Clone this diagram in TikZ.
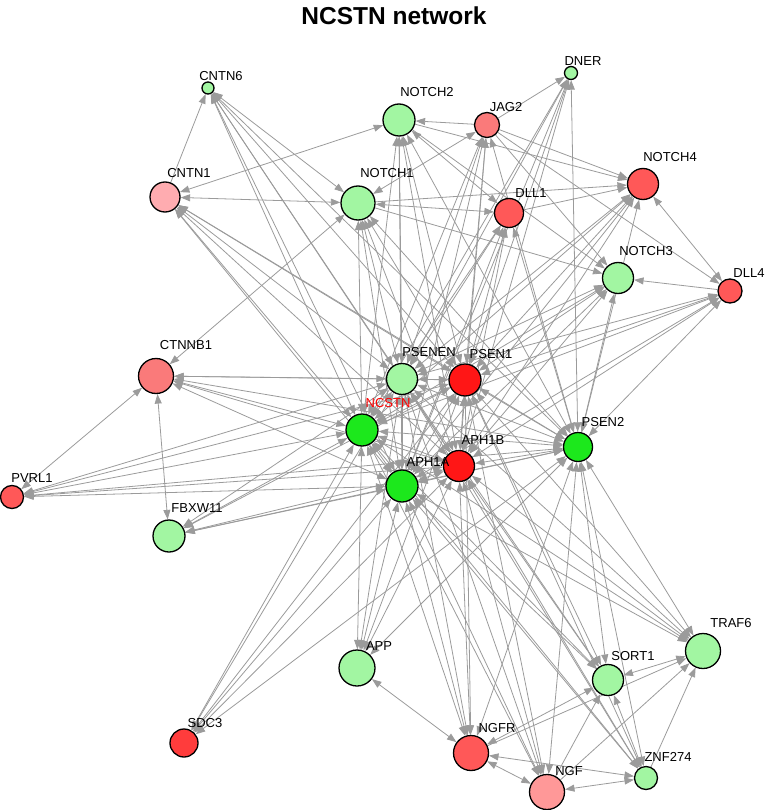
\documentclass[tikz,border=0pt]{standalone}
\usepackage{fontspec}
\setmainfont{Liberation Sans}
\usetikzlibrary{arrows.meta,calc}
\definecolor{edgegray}{RGB}{155,155,155}
\definecolor{lgreen}{RGB}{162,246,162}
\definecolor{bgreen}{RGB}{28,232,28}
\definecolor{fullred}{RGB}{255,22,22}
\definecolor{midred}{RGB}{255,88,88}
\definecolor{deepred}{RGB}{255,60,60}
\definecolor{salmon}{RGB}{250,122,122}
\definecolor{lpink}{RGB}{255,172,176}
\definecolor{npink}{RGB}{255,152,152}
\pgfdeclarelayer{edges}
\pgfsetlayers{edges,main}
\tikzset{gene/.style={circle,draw=black,line width=1.3pt,inner sep=0pt},
	lbl/.style={font=\fontsize{13}{13}\selectfont,inner sep=0pt},
	link/.style={draw=edgegray,line width=0.8pt,arrows={-Triangle[length=9.5pt,width=7pt]}},
	mutual/.style={link,arrows={Triangle[length=9.5pt,width=7pt]-Triangle[length=9.5pt,width=7pt]}}}
\def\gene(#1)(#2,#3)(#4)[#5](#6,#7)#8{\node[gene,minimum size=#4,fill=#5] (#1) at (#2,#3) {};
	\node[lbl] (#1-l) at ($(#1)+(#6,#7)$) {#8};}

\begin{document}
\begin{tikzpicture}[x=1pt,y=-1pt]
		%%%%% START %%%%%
		\useasboundingbox (0,0) rectangle (767,810);
		\node[font=\bfseries\fontsize{24.5}{25}\selectfont] (title) at (394,16) {NCSTN network};
		
		\gene(cntn6)(208,88)(12)[lgreen](13,-12){CNTN6}
		\gene(dner)(571,73)(13)[lgreen](12,-12){DNER}
		\gene(notch2)(399,120)(32)[lgreen](28,-28){NOTCH2}
		\gene(jag2)(487,125)(25)[salmon](19,-18){JAG2}
		\gene(cntn1)(165,197)(30)[lpink](24,-24){CNTN1}
		\gene(notch1)(358,203)(34)[lgreen](29,-30){NOTCH1}
		\gene(notch4)(643,184)(31)[midred](27,-27){NOTCH4}
		\gene(dll1)(509,213)(29)[midred](22,-20){DLL1}
		\gene(notch3)(618,278)(31)[lgreen](28,-27){NOTCH3}
		\gene(dll4)(730,291)(24)[midred](19,-18){DLL4}
		\gene(ctnnb1)(156,376)(35)[salmon](30,-31){CTNNB1}
		\gene(psenen)(402,379)(31)[lgreen](27,-27){PSENEN}
		\gene(psen1)(465,380)(32)[fullred](26,-26){PSEN1}
		\gene(ncstn)(362,430)(32)[bgreen](26,-27){\textcolor{red}{NCSTN}}
		\gene(psen2)(578,447)(29)[bgreen](25,-25){PSEN2}
		\gene(aph1b)(459,466)(31)[fullred](24,-26){APH1B}
		\gene(aph1a)(402,486)(32)[bgreen](26,-24){APH1A}
		\gene(pvrl1)(12,497)(23)[midred](20,-19){PVRL1}
		\gene(fbxw11)(169,536)(32)[lgreen](28,-28){FBXW11}
		\gene(app)(357,668)(36)[lgreen](22,-22){APP}
		\gene(traf6)(703,651)(35)[lgreen](28,-28){TRAF6}
		\gene(sort1)(608,680)(31)[lgreen](25,-24){SORT1}
		\gene(sdc3)(184,743)(28)[deepred](21,-20){SDC3}
		\gene(ngfr)(471,753)(35)[midred](26,-25){NGFR}
		\gene(ngf)(547,792)(35)[npink](22,-21){NGF}
		\gene(znf274)(646,778)(23)[lgreen](22,-21){ZNF274}
		
		\begin{pgfonlayer}{edges}
		% gamma-secretase core
		\foreach \a/\b in {ncstn/psenen,ncstn/psen1,ncstn/psen2,ncstn/aph1a,ncstn/aph1b,
			psenen/psen1,psenen/psen2,psenen/aph1a,psenen/aph1b,psen1/psen2,
			psen1/aph1a,psen1/aph1b,psen2/aph1a,psen2/aph1b,aph1a/aph1b}
			\draw[mutual] (\a) -- (\b);
		\foreach \c in {ncstn,psenen,psen1,psen2,aph1a,aph1b}
			\foreach \s in {cntn6,cntn1,notch1,notch2,notch3,notch4,dll1,dll4,jag2,dner,
				ctnnb1,pvrl1,fbxw11,sdc3,app,ngfr,ngf,sort1,traf6,znf274}
				\draw[mutual] (\c) -- (\s);
		% notch side
		\foreach \a/\b in {cntn1/notch1,cntn1/notch2,cntn6/notch1,ctnnb1/notch1,ctnnb1/pvrl1,
			ctnnb1/fbxw11,jag2/notch1,notch1/dll1,notch2/dll1,dll4/notch4}
			\draw[mutual] (\a) -- (\b);
		\foreach \a/\b in {cntn1/cntn6,jag2/notch2,jag2/dner,jag2/notch4,notch2/notch4,
			notch1/notch4,dll1/notch4,dll4/notch3,notch2/notch3,jag2/notch3,notch1/notch3,jag2/dll4}
			\draw[link] (\a) -- (\b);
		% ngf side
		\foreach \a/\b in {app/ngfr,ngfr/ngf,ngfr/znf274,ngf/znf274,ngfr/sort1,sort1/traf6,sort1/znf274}
			\draw[mutual] (\a) -- (\b);
		\foreach \a/\b in {ngfr/traf6,ngf/sort1,ngf/traf6,znf274/traf6}
			\draw[link] (\a) -- (\b);
		\end{pgfonlayer}
		%%%%% END %%%%%
\end{tikzpicture}
\end{document}
